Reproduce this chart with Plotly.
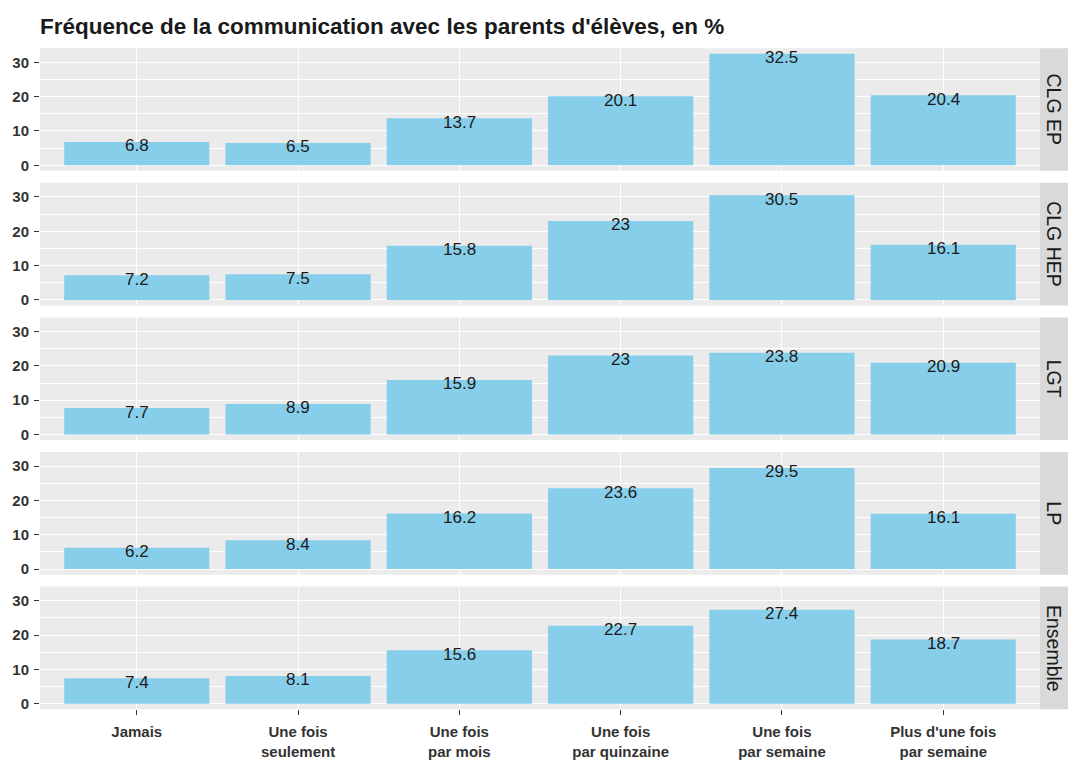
import plotly.graph_objects as go

categories = ["Jamais", "Une fois<br>seulement", "Une fois<br>par mois",
              "Une fois<br>par quinzaine", "Une fois<br>par semaine",
              "Plus d'une fois<br>par semaine"]
groups = ["CLG EP", "CLG HEP", "LGT", "LP", "Ensemble"]
clg_ep = [6.8, 6.5, 13.7, 20.1, 32.5, 20.4]
clg_hep = [7.2, 7.5, 15.8, 23, 30.5, 16.1]
lgt = [7.7, 8.9, 15.9, 23, 23.8, 20.9]
lp = [6.2, 8.4, 16.2, 23.6, 29.5, 16.1]
ensemble = [7.4, 8.1, 15.6, 22.7, 27.4, 18.7]
series = [clg_ep, clg_hep, lgt, lp, ensemble]
y_ticks = [0, 10, 20, 30]
y_minor = [5, 15, 25]

W, H = 1068, 760
px0, px1 = 40, 1040
strip_x1 = 1068
tops = [48.5, 184, 319.5, 455, 590.5]
panel_h = 123.5

ymax = max(max(s) for s in series)
yr = [-0.05 * ymax, ymax * 1.05]

fig = go.Figure()
shapes = []
annotations = []
FONT = "Liberation Sans, Arial, sans-serif"

for i, (g, vals) in enumerate(zip(groups, series)):
    n = "" if i == 0 else str(i + 1)
    xa, ya = "x" + n, "y" + n
    fig.add_trace(go.Bar(x=categories, y=vals, marker=dict(color="#87CEEB", line=dict(width=0)),
                         xaxis=xa, yaxis=ya, showlegend=False, hoverinfo="x+y"))
    top, bot = tops[i], tops[i] + panel_h
    dom = [1 - bot / H, 1 - top / H]
    last = i == len(groups) - 1
    fig.layout["xaxis" + n] = dict(
        domain=[px0 / W, px1 / W], anchor=ya, type="category",
        categoryorder="array", categoryarray=categories,
        range=[-0.6, len(categories) - 0.4],
        showgrid=True, gridcolor="white", gridwidth=1.3,
        showline=False, zeroline=False,
        showticklabels=last, ticks="outside" if last else "",
        ticklen=5, tickwidth=1, tickcolor="#333333", ticklabelstandoff=4,
        tickfont=dict(family=FONT, size=15, color="#333333", weight="bold"),
        matches="x" if i > 0 else None, fixedrange=True,
    )
    fig.layout["yaxis" + n] = dict(
        domain=dom, anchor=xa, range=yr,
        tickvals=y_ticks, ticktext=[str(t) for t in y_ticks],
        showgrid=True, gridcolor="white", gridwidth=1.3,
        minor=dict(tickvals=y_minor, showgrid=True, gridcolor="white", gridwidth=0.7, ticks=""),
        zeroline=False, showline=False,
        ticks="outside", ticklen=5, tickwidth=1, tickcolor="#333333", ticklabelstandoff=2,
        tickfont=dict(family=FONT, size=15, color="#333333", weight="bold"),
        fixedrange=True,
    )
    shapes.append(dict(type="rect", xref="paper", yref="paper", layer="below",
                       x0=px0 / W, x1=px1 / W, y0=dom[0], y1=dom[1],
                       fillcolor="#EBEBEB", line=dict(width=0)))
    shapes.append(dict(type="rect", xref="paper", yref="paper", layer="below",
                       x0=px1 / W, x1=strip_x1 / W, y0=dom[0], y1=dom[1],
                       fillcolor="#D9D9D9", line=dict(width=0)))
    annotations.append(dict(text=g, xref="paper", yref="paper",
                            x=(px1 + strip_x1) / 2 / W, y=(dom[0] + dom[1]) / 2,
                            showarrow=False, textangle=90, xanchor="center", yanchor="middle",
                            font=dict(family=FONT, size=19.5, color="#1A1A1A")))
    for c, v in zip(categories, vals):
        annotations.append(dict(text=f"{v:g}", x=c, y=v, xref=xa, yref=ya,
                                showarrow=False, yanchor="middle", yshift=-4,
                                font=dict(family=FONT, size=17, color="#1A1A1A")))

fig.update_layout(
    width=W, height=H,
    margin=dict(l=0, r=0, t=0, b=0),
    paper_bgcolor="white", plot_bgcolor="rgba(0,0,0,0)",
    bargap=0.1,
    shapes=shapes, annotations=annotations,
    title=dict(text="<b>Fréquence de la communication avec les parents d'élèves, en %</b>",
               x=40 / W, xanchor="left", xref="paper", y=1 - 26 / H, yanchor="middle",
               font=dict(family=FONT, size=22.5, color="#1A1A1A")),
)

fig.write_html("out.html", config={"displayModeBar": False},
               post_script="document.body.style.margin='0';document.body.style.overflow='hidden';")
